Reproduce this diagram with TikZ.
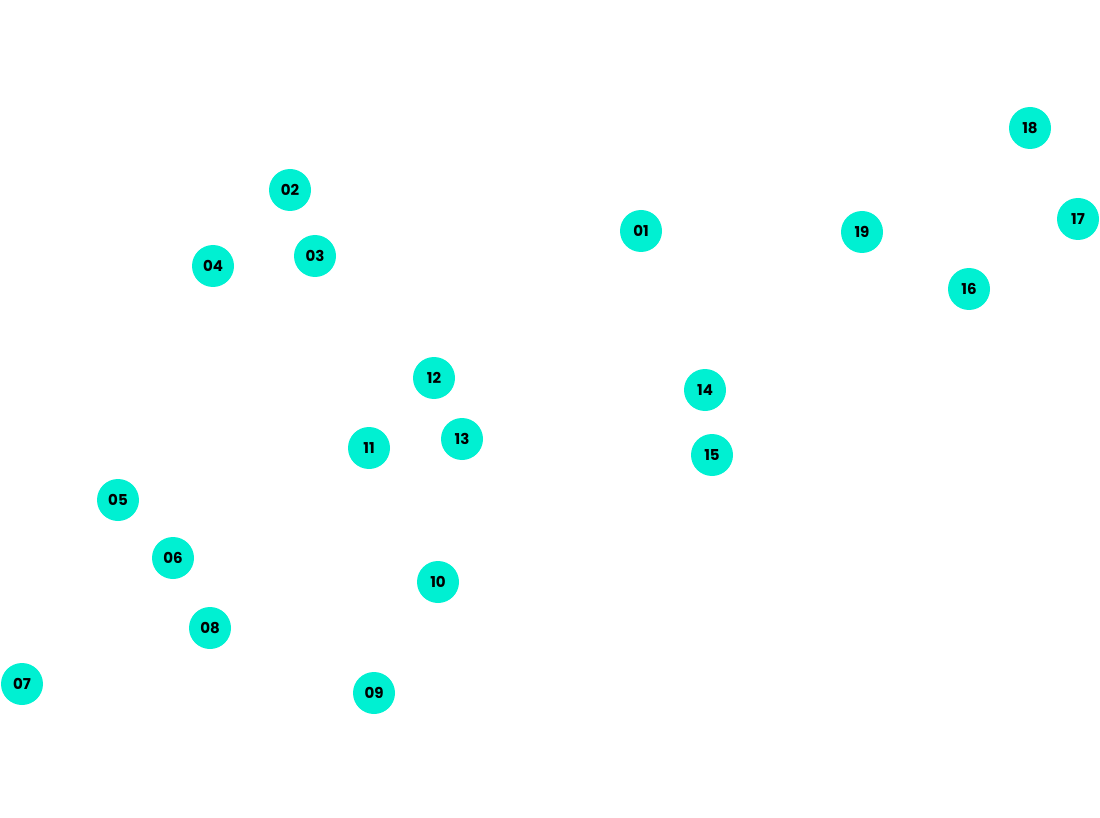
\documentclass[tikz,border=0pt]{standalone}
\usepackage{fontspec}
\setmainfont{Poppins}
\definecolor{pointteal}{HTML}{00F0D2}
\tikzset{
  point/.style={circle, fill=pointteal, minimum size=42pt, inner sep=0pt,
    font=\bfseries\fontsize{15}{15}\selectfont}
}
\begin{document}
\begin{tikzpicture}[x=1pt,y=-1pt]
\useasboundingbox (0,0) rectangle (1100,818);

\foreach \n/\x/\y in {01/641/231, 02/290/190, 03/315/256, 04/213/266,
  05/118/500, 06/173/558, 07/22/684, 08/210/628, 09/374/693, 10/438/582,
  11/369/448, 12/434/378, 13/462/439, 14/705/390, 15/712/455,
  16/969/289, 17/1078/219, 18/1030/128, 19/862/232}{
  \node[point] (p\n) at (\x,\y) {\n};
}

\end{tikzpicture}
\end{document}
